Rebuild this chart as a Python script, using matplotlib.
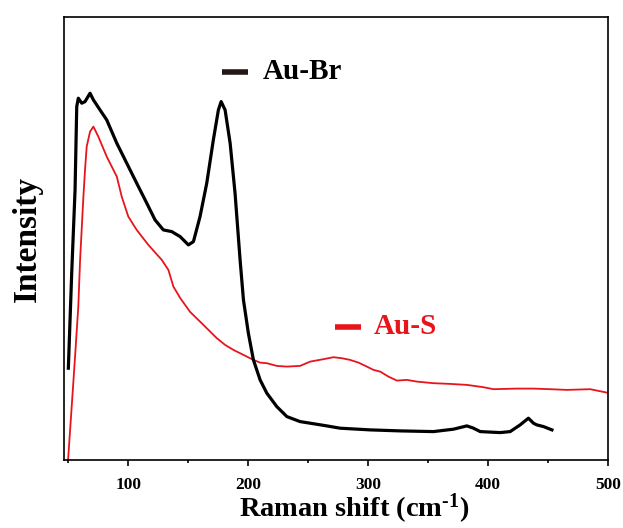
import matplotlib
matplotlib.use('Agg')
import matplotlib.pyplot as plt
from matplotlib.ticker import MultipleLocator

plt.rcParams['font.family'] = 'Liberation Serif'
plt.rcParams['font.weight'] = 'bold'
plt.rcParams['mathtext.fontset'] = 'custom'
plt.rcParams['mathtext.rm'] = 'Liberation Serif:bold'
plt.rcParams['mathtext.bf'] = 'Liberation Serif:bold'
plt.rcParams['mathtext.default'] = 'bf'

# Au-Br spectrum (Raman shift in cm-1, intensity in arbitrary units)
aubr_x = [50.0, 52.8, 55.6, 57.0, 58.3, 61.2, 63.9, 68.1, 70.9, 76.4, 82.0,
          90.4, 98.7, 107.0, 115.4, 122.3, 129.2, 136.2, 143.2, 150.1, 154.3,
          159.8, 165.4, 170.9, 175.1, 177.4, 180.7, 184.9, 189.0, 193.2, 196.0,
          200.1, 204.3, 209.9, 215.5, 223.8, 232.2, 243.2, 251.6, 265.5, 276.6,
          301.6, 326.6, 354.4, 371.1, 382.3, 387.8, 393.4, 410.0, 418.4, 426.7,
          433.6, 437.8, 440.6, 446.2, 453.2]
aubr_y = [91.7, 186.7, 270, 353.3, 361.7, 356.7, 358.3, 366.7, 360, 350, 340,
          316.7, 296.7, 276.7, 256.7, 240, 230, 228.3, 223.3, 215, 218.3,
          243.3, 276.7, 320, 350, 358.3, 350, 316.7, 266.7, 200, 160,
          126.7, 100, 80, 66.7, 53.3, 43.3, 38.3, 36.7, 34, 31.7,
          30, 29, 28.3, 30.7, 34, 31.7, 28.3, 27.3, 28.3, 35,
          41.7, 36.7, 35, 33.3, 30]

# Au-S spectrum
aus_x = [49.6, 52.8, 55.6, 58.3, 59.8, 62.5, 63.9, 65.3, 68.1, 70.9, 75.0,
         82.0, 90.4, 94.5, 100.0, 107.0, 116.7, 127.9, 133.4, 137.6, 143.2,
         151.5, 159.8, 166.8, 173.8, 180.7, 187.6, 196.0, 204.3, 209.9, 215.5,
         223.8, 232.2, 243.2, 251.6, 262.7, 271.0, 278.0, 284.9, 291.9, 298.9,
         304.4, 310.0, 316.9, 323.9, 332.2, 340.6, 354.4, 368.3, 382.3, 396.1,
         404.5, 424.0, 437.8, 451.7, 465.7, 485.1, 499.0]
aus_y = [-3, 53.3, 103.3, 153.3, 200, 262, 290, 313.3, 328.3, 333.3, 323.3,
         303.3, 283.3, 263.3, 243.3, 230, 215, 200, 190, 173.3, 162,
         148, 138.3, 130, 121.7, 115, 110, 105, 100, 97.3, 96.7,
         94, 93.3, 94, 98.3, 100.7, 102.7, 101.7, 100, 97.3, 93.3,
         90, 88.3, 83.3, 79.3, 80, 78.3, 76.7, 76, 75, 72.7,
         70.7, 71.3, 71.3, 70.7, 70, 70.7, 67.3]

fig = plt.figure(figsize=(6.23, 5.28), dpi=100)
ax = fig.add_axes([0.102, 0.129, 0.874, 0.838])

ax.plot(aubr_x, aubr_y, color='black', linewidth=2.3, zorder=3)
ax.plot(aus_x, aus_y, color='#e8141c', linewidth=1.3, zorder=2)

ax.set_xlim(46, 500)
ax.set_ylim(0, 442.5)

# labels drawn as short dashes plus text, as in the original figure
ax.plot([178, 200], [388, 388], color='#231815', linewidth=4, solid_capstyle='butt')
ax.text(212, 388, 'Au-Br', fontsize=21, fontweight='bold', va='center', ha='left')
ax.plot([272, 294], [133, 133], color='#e8141c', linewidth=4, solid_capstyle='butt')
ax.text(305, 133, 'Au-S', fontsize=21, fontweight='bold', color='#e8141c',
        va='center', ha='left')

ax.xaxis.set_major_locator(MultipleLocator(100))
ax.xaxis.set_minor_locator(MultipleLocator(50))
ax.tick_params(axis='x', which='major', direction='out', length=4.5, width=1.2,
               labelsize=12.5, pad=8)
ax.tick_params(axis='x', which='minor', direction='out', length=2.5, width=1.2)
ax.set_yticks([])
for lbl in ax.get_xticklabels():
    lbl.set_fontweight('bold')
for sp in ax.spines.values():
    sp.set_linewidth(1.2)

ax.set_xlabel('Raman shift (cm$^{\\text{-1}}$)', fontsize=20.5, fontweight='bold')
ax.xaxis.set_label_coords(0.534, -0.073)
ax.set_ylabel('Intensity', fontsize=24, fontweight='bold', labelpad=15)

fig.savefig('out.png', dpi=100)
